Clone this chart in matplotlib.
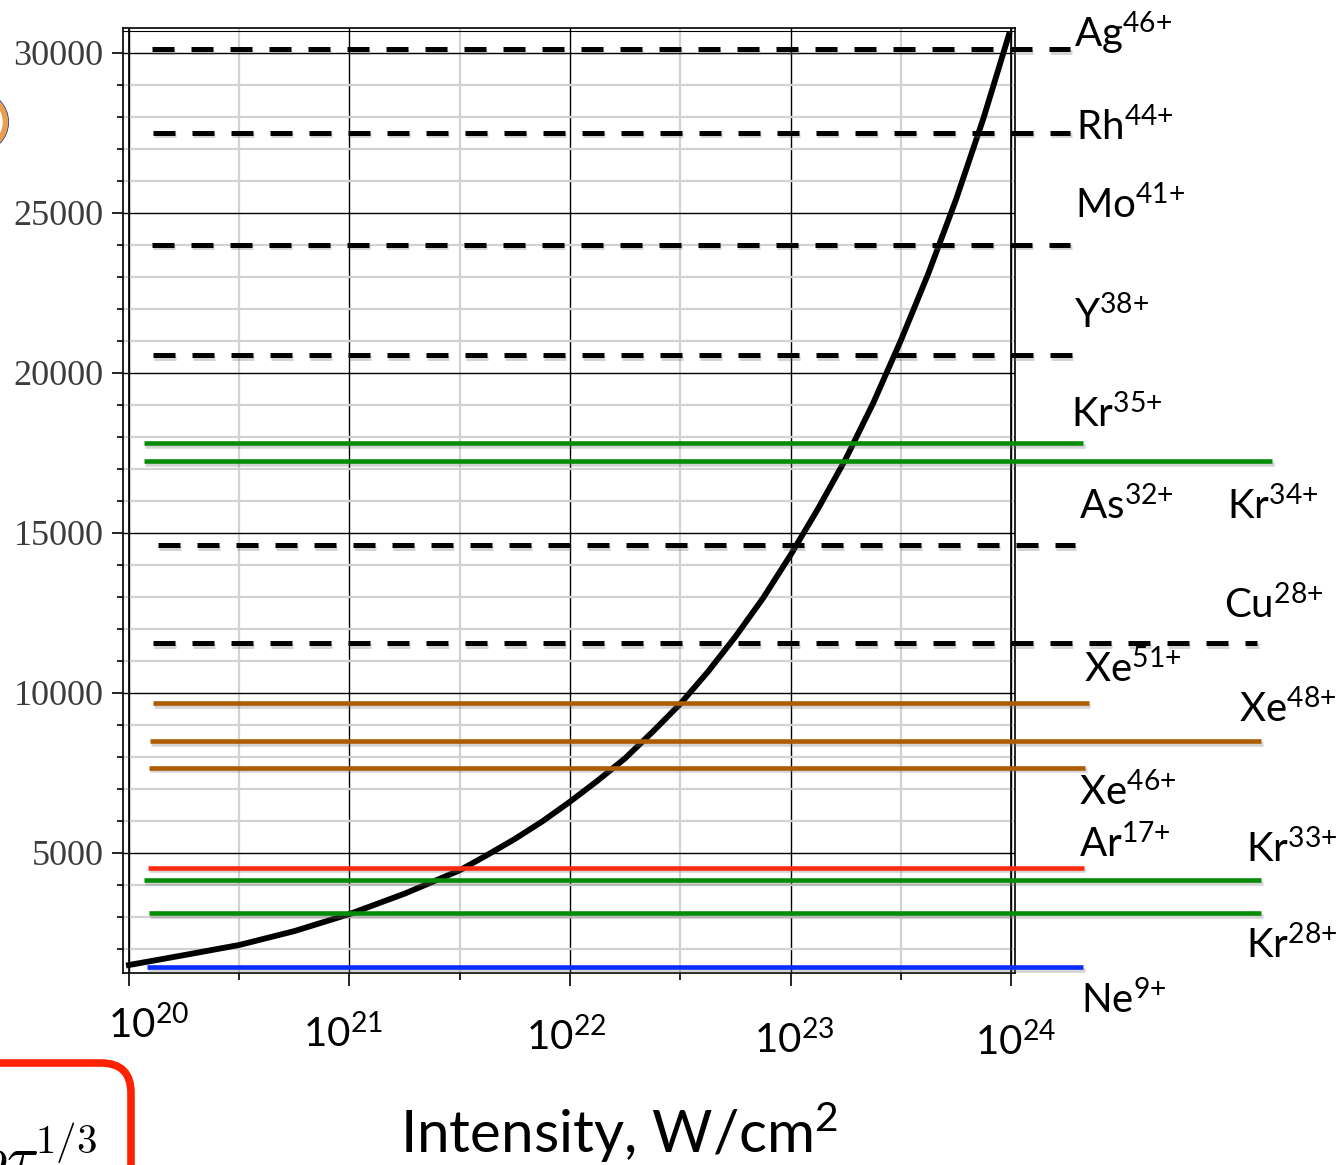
import numpy as np
import matplotlib
matplotlib.use("Agg")
import matplotlib.pyplot as plt
from matplotlib import patheffects as pe
from matplotlib.patches import FancyBboxPatch, Ellipse
from matplotlib.ticker import FixedLocator, MultipleLocator, NullFormatter
from matplotlib.transforms import IdentityTransform

plt.rcParams['font.family'] = ['Lato', 'DejaVu Sans']
plt.rcParams['mathtext.fontset'] = 'custom'
plt.rcParams['mathtext.rm'] = 'Lato'
plt.rcParams['mathtext.it'] = 'Lato:italic'
plt.rcParams['mathtext.bf'] = 'Lato:bold'

# threshold curve (log10 intensity -> value)
curve_logI = [20.0, 20.25, 20.5, 20.75, 21.0, 21.25, 21.5, 21.625, 21.75, 21.875,
              22.0, 22.125, 22.25, 22.375, 22.5, 22.625, 22.75, 22.875, 23.0,
              23.125, 23.25, 23.375, 23.5, 23.625, 23.75, 23.875, 23.99]
curve_val = [1490, 1800, 2116, 2550, 3083, 3720, 4450, 4930, 5430, 5980,
             6594, 7250, 7950, 8780, 9650, 10650, 11750, 12950, 14300,
             15750, 17300, 19050, 21000, 23100, 25400, 27950, 30550]

# dashed ion levels
dashed_val = [30100, 27500, 24000, 20550, 14600, 11550]
dashed_from = [20.104, 20.109, 20.104, 20.109, 20.132, 20.109]
dashed_to = [24.268, 24.268, 24.268, 24.277, 24.290, 25.116]

# solid ion levels
solid_val = [17800, 17240, 9668, 8490, 7656, 4531, 4147, 3106, 1419]
solid_from = [20.068, 20.068, 20.109, 20.095, 20.091, 20.086, 20.068, 20.091, 20.082]
solid_to = [24.327, 25.184, 24.354, 25.134, 24.336, 24.331, 25.134, 25.134, 24.327]
solid_color = ['#058c05', '#058c05', '#ad5c00', '#ad5c00', '#ad5c00',
               '#ff2a10', '#058c05', '#058c05', '#0a2cff']

# ion labels
ion_names = [r'Ag$^{\mathregular{46{+}}}$', r'Rh$^{\mathregular{44{+}}}$', r'Mo$^{\mathregular{41{+}}}$',
             r'Y$^{\mathregular{38{+}}}$', r'Kr$^{\mathregular{35{+}}}$', r'As$^{\mathregular{32{+}}}$',
             r'Kr$^{\mathregular{34{+}}}$', r'Cu$^{\mathregular{28{+}}}$', r'Xe$^{\mathregular{51{+}}}$',
             r'Xe$^{\mathregular{48{+}}}$', r'Xe$^{\mathregular{46{+}}}$', r'Ar$^{\mathregular{17{+}}}$',
             r'Kr$^{\mathregular{33{+}}}$', r'Kr$^{\mathregular{28{+}}}$', r'Ne$^{\mathregular{9{+}}}$']
ion_x = [24.285, 24.294, 24.290, 24.285, 24.272, 24.308, 24.979, 24.966, 24.331,
         25.034, 24.308, 24.308, 25.065, 25.065, 24.317]
ion_y = [30178, 27272, 24834, 21397, 18303, 15428, 15428, 12334, 10334,
         9084, 6490, 4866, 4709, 1709, -9]

ytick_vals = [5000, 10000, 15000, 20000, 25000, 30000]
ytick_labels = ['5000', '10000', '15000', '20000', '25000', '30000']
xtick_exps = [20, 21, 22, 23, 24]
# label offsets in pixels from the tick (dx, baseline below axes)
xtick_offsets = [(20, -65), (-7, -74), (-4, -77), (4, -80), (4, -82)]

fig = plt.figure(figsize=(13.41, 11.65), dpi=100)
ax = fig.add_axes([0.0917, 0.1648, 0.6652, 0.8112])

ax.set_xscale('log')
ax.set_xlim(10**19.973, 10**24.018)
ax.set_ylim(1241, 30772)
ax.xaxis.set_major_locator(FixedLocator(10.0 ** np.arange(20, 25)))
ax.xaxis.set_minor_locator(FixedLocator(10.0 ** (np.arange(20, 24) + 0.5)))
ax.xaxis.set_major_formatter(NullFormatter())
ax.xaxis.set_minor_formatter(NullFormatter())
ax.yaxis.set_major_locator(FixedLocator(ytick_vals))
ax.set_yticklabels(ytick_labels, fontfamily='Liberation Serif', fontsize=26, color='#3c3c3c')
ax.yaxis.set_minor_locator(MultipleLocator(1000))

ax.grid(which='major', color='black', lw=1.0)
ax.grid(which='minor', color='#d2d2d2', lw=1.6)
ax.set_axisbelow(True)
ax.tick_params(axis='y', which='major', length=8, width=1.2, pad=6)
ax.tick_params(axis='y', which='minor', length=4, width=1.2)
ax.tick_params(axis='x', which='major', length=9, width=1.2)
ax.tick_params(axis='x', which='minor', length=5, width=1.2)
for s in ax.spines.values():
    s.set_linewidth(1.2)
ax.axvline(1e20, color='black', lw=1.2)
ax.axvline(1e24, color='black', lw=1.2)
ax.axhline(30680, color='black', lw=0.8)

shadow = [pe.SimpleLineShadow(offset=(1, -2), shadow_color='0.45', alpha=0.3), pe.Normal()]

ax.plot(10.0 ** np.array(curve_logI), curve_val, color='black', lw=4.2,
        solid_joinstyle='round', zorder=3)

for v, a, b in zip(dashed_val, dashed_from, dashed_to):
    ax.plot([10**a, 10**b], [v, v], color='black', lw=3.6, dashes=(4.4, 3.4),
            clip_on=False, zorder=4, path_effects=shadow)

for v, a, b, c in zip(solid_val, solid_from, solid_to, solid_color):
    ax.plot([10**a, 10**b], [v, v], color=c, lw=3.3, solid_capstyle='butt',
            clip_on=False, zorder=4, path_effects=shadow)

for name, lx, ly in zip(ion_names, ion_x, ion_y):
    ax.text(10**lx, ly, name, fontsize=29, ha='left', va='baseline', zorder=5)

for e, (dx, dy) in zip(xtick_exps, xtick_offsets):
    ax.annotate(r'$\mathregular{10^{%d}}$' % e, xy=(10.0**e, 0),
                xycoords=('data', 'axes fraction'), xytext=(dx, dy),
                textcoords='offset pixels', ha='center', va='baseline', fontsize=29)

fig.text(619 / 1341, 1 - 1153 / 1165, r'Intensity, W/cm$^{\mathregular{2}}$',
         fontsize=42, ha='center', va='baseline')

# slide decorations cut by the frame
ident = IdentityTransform()
box = FancyBboxPatch((-200, -140), 331, 242, boxstyle='round,pad=0,rounding_size=30',
                     lw=5.5, ec='#ff2200', fc='white', transform=ident)
fig.add_artist(box)
fig.text(97, -12, r'$\rho\tau^{1/3}$', math_fontfamily='cm', fontsize=42,
         ha='right', va='baseline', transform=ident)
fig.add_artist(Ellipse((-22, 1043), 60, 60, fc='none', ec='#1f3b8c', lw=1.5, transform=ident))
fig.add_artist(Ellipse((-22, 1043), 55, 55, fc='none', ec='#e8a050', lw=4, transform=ident))

fig.savefig('out.png', dpi=100)
